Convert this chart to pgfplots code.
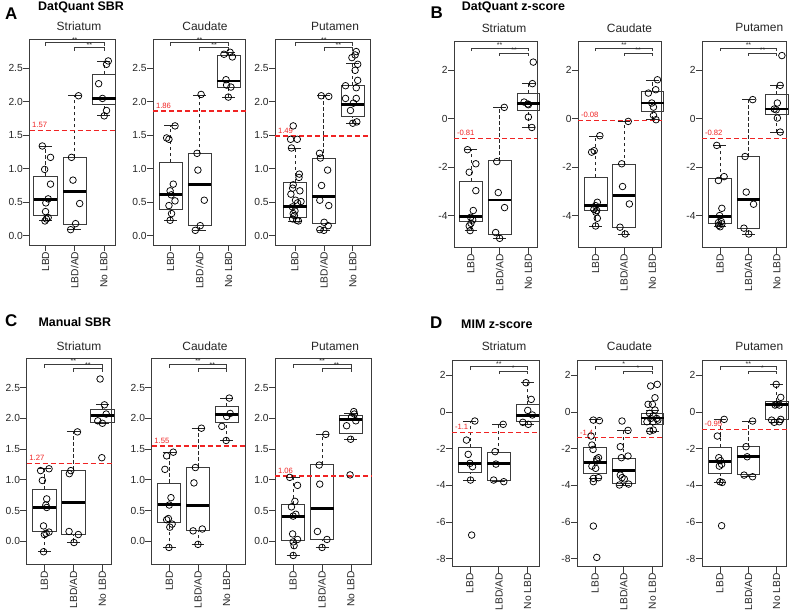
\documentclass[border=0pt]{standalone}
\usepackage{fontspec}
\setmainfont{Liberation Sans}
\usepackage{pgfplots}
\pgfplotsset{compat=1.18}
\usepgfplotslibrary{statistics}

\definecolor{thr}{RGB}{240,35,35}
\definecolor{frm}{RGB}{60,60,60}

\pgfplotsset{
  sub/.style={
    scale only axis, height=206bp,
    clip=false,
    axis line style={frm, line width=0.9bp},
    xtick={1,2,3}, xticklabels={LBD,LBD/AD,No LBD},
    tick pos=left,
    tick align=outside, major tick length=6.5bp,
    tick style={frm, line width=0.7bp},
    xticklabel style={rotate=90, anchor=east, font=\fontsize{10.3}{12}\selectfont, inner sep=0pt, text=black!85},
    yticklabel style={anchor=east, font=\fontsize{10.3}{12}\selectfont, inner sep=0pt, text=black!85},
    /pgf/number format/assume math mode=true,
    boxplot/draw direction=y,
    boxplot/box extend=0.8,
    boxplot/every box/.style={draw=frm, line width=0.8bp},
    boxplot/every median/.style={black, line width=2.8bp},
    boxplot/draw/lower whisker/.code={%
      \draw[black!85, line width=0.75bp, dash pattern=on 3.5bp off 2.5bp]
        (boxplot box cs:\pgfplotsboxplotvalue{lower whisker},0.5) --
        (boxplot box cs:\pgfplotsboxplotvalue{lower quartile},0.5);
      \draw[black!85, line width=0.8bp]
        (boxplot box cs:\pgfplotsboxplotvalue{lower whisker},0.22) --
        (boxplot box cs:\pgfplotsboxplotvalue{lower whisker},0.78);
    },
    boxplot/draw/upper whisker/.code={%
      \draw[black!85, line width=0.75bp, dash pattern=on 3.5bp off 2.5bp]
        (boxplot box cs:\pgfplotsboxplotvalue{upper quartile},0.5) --
        (boxplot box cs:\pgfplotsboxplotvalue{upper whisker},0.5);
      \draw[black!85, line width=0.8bp]
        (boxplot box cs:\pgfplotsboxplotvalue{upper whisker},0.22) --
        (boxplot box cs:\pgfplotsboxplotvalue{upper whisker},0.78);
    },
  },
  sbr/.style={ytick={0,0.5,1,1.5,2,2.5},
    yticklabel style={/pgf/number format/fixed, /pgf/number format/fixed zerofill, /pgf/number format/precision=1}},
  pts/.style={only marks, mark=o, mark size=3.3bp, black, mark options={line width=0.75bp}},
  thrline/.style={thr, line width=1.4bp, dash pattern=on 5bp off 3bp},
  brk/.style={frm, line width=0.6bp},
}
\tikzset{
  thrlab/.style={text=thr, font=\fontsize{7.7}{8}\selectfont, anchor=south west, inner sep=0pt, xshift=2.5bp, yshift=2.5bp},
  brklab/.style={font=\fontsize{7}{8}\selectfont, anchor=south, inner sep=0.3bp, text=black!85},
}

% draw position, lower whisker, Q1, median, Q3, upper whisker
\newcommand{\bx}[6]{\addplot[boxplot prepared={draw position=#1, lower whisker=#2, lower quartile=#3, median=#4, upper quartile=#5, upper whisker=#6}] coordinates {};}
% xmin, xmax, value, label
\newcommand{\thrl}[4]{\addplot[thrline] coordinates {(#1,#3) (#2,#3)};
  \node[thrlab] at (axis cs:#1,#3) {#4};}
% y1, y1 end, y2, y2 end, label1, label2
\newcommand{\brackets}[6]{%
  \addplot[brk] coordinates {(1,#2) (1,#1) (3,#1) (3,#2)};
  \addplot[brk] coordinates {(2,#4) (2,#3) (3,#3) (3,#4)};
  \node[brklab] at (axis cs:2,#1) {#5};
  \node[brklab] at (axis cs:2.5,#3) {#6};}

\begin{document}
\begin{tikzpicture}
\useasboundingbox (0,0) rectangle (797bp,616bp);

% ---------------- titles ----------------
\node[anchor=west, inner sep=0pt, font=\fontsize{17}{18}\selectfont\bfseries] at (5bp,602bp) {A};
\node[anchor=west, inner sep=0pt, font=\fontsize{12.5}{14}\selectfont\bfseries] at (38bp,608.5bp) {DatQuant SBR};
\node[anchor=west, inner sep=0pt, font=\fontsize{17}{18}\selectfont\bfseries] at (430.5bp,603.8bp) {B};
\node[anchor=west, inner sep=0pt, font=\fontsize{12.5}{14}\selectfont\bfseries] at (461.7bp,609bp) {DatQuant z-score};
\node[anchor=west, inner sep=0pt, font=\fontsize{17}{18}\selectfont\bfseries] at (5bp,295bp) {C};
\node[anchor=west, inner sep=0pt, font=\fontsize{12.5}{14}\selectfont\bfseries] at (38.3bp,294bp) {Manual SBR};
\node[anchor=west, inner sep=0pt, font=\fontsize{17}{18}\selectfont\bfseries] at (430bp,293.5bp) {D};
\node[anchor=west, inner sep=0pt, font=\fontsize{12.5}{14}\selectfont\bfseries] at (461bp,291.5bp) {MIM z-score};

\foreach \x/\t in {79/Striatum,205/Caudate,335/Putamen}{
  \node[font=\fontsize{12}{14}\selectfont, text=black!85] at (\x bp,590bp) {\t};
  \node[font=\fontsize{12}{14}\selectfont, text=black!85] at (\x bp,270bp) {\t};}
\foreach \x/\t in {504/Striatum,629.5/Caudate,759.3/Putamen}{
  \node[font=\fontsize{12}{14}\selectfont, text=black!85] at (\x bp,588.2bp) {\t};
  \node[font=\fontsize{12}{14}\selectfont, text=black!85] at (\x bp,269.3bp) {\t};}

% ================= A: DatQuant SBR =================
\begin{axis}[sub, sbr, at={(29.5bp,371bp)}, width=85.5bp, xmin=0.45, xmax=3.38, ymin=-0.139, ymax=2.938]
\bx{1}{0.23}{0.31}{0.54}{0.88}{1.34}
\bx{2}{0.09}{0.17}{0.66}{1.17}{2.09}
\bx{3}{1.80}{1.96}{2.05}{2.41}{2.60}
\thrl{0.45}{3.38}{1.57}{1.57}
\brackets{2.883}{2.834}{2.809}{2.764}{**}{**}
\addplot[pts] coordinates {(0.89,1.34) (1.17,1.17) (0.97,0.99) (1.17,0.77) (1.09,0.55) (1.01,0.49) (1.0,0.36) (1.09,0.27) (1.03,0.25) (0.98,0.22)
 (2.13,2.09) (1.89,1.17) (1.94,0.83) (2.17,0.48) (2.03,0.18) (1.86,0.09)
 (3.15,2.61) (3.09,2.56) (2.82,2.27) (2.95,2.05) (3.09,1.87) (3.01,1.79)};
\end{axis}

\begin{axis}[sub, sbr, at={(153.3bp,371bp)}, width=92.4bp, xmin=0.40, xmax=3.59, ymin=-0.139, ymax=2.938]
\bx{1}{0.23}{0.39}{0.62}{1.10}{1.64}
\bx{2}{0.08}{0.15}{0.76}{1.23}{2.10}
\bx{3}{2.07}{2.21}{2.31}{2.69}{2.74}
\thrl{0.40}{3.59}{1.86}{1.86}
\brackets{2.883}{2.834}{2.809}{2.764}{**}{**}
\addplot[pts] coordinates {(1.15,1.64) (0.86,1.46) (0.94,1.44) (1.09,0.77) (0.98,0.67) (1.02,0.61) (1.15,0.52) (0.94,0.45) (1.03,0.33) (0.98,0.23)
 (2.05,2.11) (1.91,1.23) (1.94,0.98) (2.16,0.53) (2.02,0.15) (1.85,0.08)
 (2.84,2.71) (3.05,2.74) (3.13,2.67) (2.91,2.33) (2.93,2.25) (3.08,2.22) (2.99,2.07)};
\end{axis}

\begin{axis}[sub, sbr, at={(275.3bp,371bp)}, width=95.4bp, xmin=0.32, xmax=3.62, ymin=-0.139, ymax=2.938]
\bx{1}{0.22}{0.27}{0.44}{0.80}{1.31}
\bx{2}{0.08}{0.19}{0.59}{1.15}{2.09}
\bx{3}{1.67}{1.78}{1.96}{2.25}{2.57}
\thrl{0.32}{3.62}{1.49}{1.49}
\brackets{2.883}{2.834}{2.809}{2.764}{**}{**}
\addplot[pts] coordinates {(0.94,1.64) (0.85,1.44) (1.08,1.44) (0.88,1.31) (1.15,0.92) (1.14,0.87) (0.94,0.76) (0.92,0.71) (0.86,0.62) (1.17,0.67)
 (1.02,0.53) (1.09,0.49) (1.21,0.51) (0.91,0.43) (1.0,0.37) (0.94,0.33) (0.98,0.30) (0.92,0.25) (1.06,0.23) (1.12,0.22)
 (1.91,2.09) (2.17,2.08) (1.85,1.23) (1.88,1.16) (2.13,0.98) (1.92,0.75) (1.86,0.53) (2.17,0.45) (2.01,0.20) (2.15,0.15) (1.86,0.09) (2.0,0.08)
 (3.12,2.75) (3.08,2.70) (2.97,2.66) (3.17,2.56) (3.08,2.47) (3.17,2.32) (2.75,2.24) (3.12,2.21) (2.75,2.05) (3.12,2.05) (3.02,1.98) (2.92,1.87) (3.14,1.70) (3.0,1.68)};
\end{axis}

% ================= B: DatQuant z-score =================
\begin{axis}[sub, at={(454.3bp,368.7bp)}, width=83bp, xmin=0.42, xmax=3.31, ymin=-5.31, ymax=3.2, ytick={-4,-2,0,2}]
\bx{1}{-4.62}{-4.26}{-4.04}{-2.58}{-1.26}
\bx{2}{-4.94}{-4.76}{-3.36}{-1.74}{0.47}
\bx{3}{-0.36}{0.33}{0.63}{1.06}{1.45}
\thrl{0.42}{3.31}{-0.81}{-0.81}
\brackets{2.92}{2.79}{2.72}{2.61}{**}{**}
\addplot[pts] coordinates {(0.88,-1.28) (1.17,-1.86) (0.94,-2.21) (1.17,-2.97) (1.08,-3.79) (0.99,-4.07) (1.06,-4.18) (1.0,-4.32) (0.94,-4.43) (0.97,-4.62)
 (2.16,0.47) (1.9,-1.77) (1.95,-3.05) (2.17,-3.67) (1.86,-4.70) (2.0,-4.94)
 (3.17,2.34) (3.14,1.45) (2.85,0.69) (2.98,0.61) (3.0,0.58) (3.0,0.07) (3.12,-0.36)};
\end{axis}

\begin{axis}[sub, at={(578.3bp,368.7bp)}, width=83.4bp, xmin=0.39, xmax=3.33, ymin=-5.31, ymax=3.2, ytick={-4,-2,0,2}]
\bx{1}{-4.43}{-3.77}{-3.57}{-2.41}{-0.72}
\bx{2}{-4.76}{-4.49}{-3.17}{-1.87}{-0.10}
\bx{3}{-0.04}{0.30}{0.65}{1.12}{1.60}
\thrl{0.39}{3.33}{-0.08}{-0.08}
\brackets{2.92}{2.79}{2.72}{2.61}{**}{**}
\addplot[pts] coordinates {(1.15,-0.70) (0.86,-1.38) (0.95,-1.32) (1.06,-3.45) (1.0,-3.59) (0.94,-3.74) (1.04,-3.79) (1.01,-3.86) (1.06,-4.11) (1.0,-4.43)
 (2.15,-0.11) (1.92,-1.86) (1.95,-2.80) (2.19,-3.52) (1.86,-4.48) (2.04,-4.76)
 (3.18,1.61) (3.12,1.20) (2.86,1.06) (2.98,0.65) (3.04,0.48) (3.04,0.14) (3.13,-0.04)};
\end{axis}

\begin{axis}[sub, at={(702.3bp,368.7bp)}, width=84.4bp, xmin=0.37, xmax=3.35, ymin=-5.31, ymax=3.2, ytick={-4,-2,0,2}]
\bx{1}{-4.46}{-4.34}{-4.03}{-2.46}{-1.12}
\bx{2}{-4.76}{-4.53}{-3.32}{-1.56}{0.79}
\bx{3}{-0.55}{0.20}{0.40}{1.00}{1.36}
\thrl{0.37}{3.35}{-0.82}{-0.82}
\brackets{2.92}{2.79}{2.72}{2.61}{**}{**}
\addplot[pts] coordinates {(0.88,-1.10) (1.14,-2.39) (0.94,-2.55) (1.06,-3.70) (0.98,-4.00) (1.04,-4.25) (0.94,-4.29) (1.06,-4.34) (1.0,-4.46) (0.95,-4.40)
 (2.15,0.79) (1.88,-1.56) (1.92,-3.03) (2.18,-3.53) (1.84,-4.52) (2.01,-4.76)
 (3.18,2.61) (3.12,1.38) (3.02,0.65) (2.91,0.40) (2.98,0.37) (3.02,0.03) (3.12,-0.55)};
\end{axis}

% ================= C: Manual SBR =================
\begin{axis}[sub, sbr, at={(26.7bp,51.7bp)}, width=85bp, xmin=0.39, xmax=3.32, ymin=-0.374, ymax=2.977]
\bx{1}{-0.16}{0.16}{0.55}{0.84}{1.18}
\bx{2}{-0.01}{0.12}{0.63}{1.16}{1.78}
\bx{3}{1.92}{1.93}{2.05}{2.14}{2.22}
\thrl{0.39}{3.32}{1.27}{1.27}
\brackets{2.885}{2.825}{2.815}{2.76}{**}{**}
\addplot[pts] coordinates {(0.87,1.15) (1.16,1.18) (0.93,0.99) (1.08,0.69) (1.05,0.59) (1.08,0.55) (0.97,0.25) (1.06,0.13) (1.16,0.15) (1.0,0.11) (0.97,-0.17)
 (2.14,1.78) (1.91,1.15) (1.86,1.10) (1.85,0.16) (2.17,0.11) (2.02,-0.02)
 (2.92,2.64) (3.07,2.22) (2.84,1.96) (3.13,2.07) (3.0,1.92) (2.98,1.36)};
\end{axis}

\begin{axis}[sub, sbr, at={(151.7bp,51.7bp)}, width=94bp, xmin=0.39, xmax=3.66, ymin=-0.374, ymax=2.977]
\bx{1}{-0.10}{0.31}{0.60}{0.95}{1.45}
\bx{2}{-0.05}{0.17}{0.58}{1.21}{1.84}
\bx{3}{1.64}{1.93}{2.06}{2.20}{2.32}
\thrl{0.39}{3.66}{1.55}{1.55}
\brackets{2.885}{2.825}{2.815}{2.76}{**}{**}
\addplot[pts] coordinates {(1.14,1.45) (0.91,1.39) (0.85,1.17) (1.06,0.71) (1.0,0.59) (0.97,0.37) (0.91,0.35) (1.10,0.28) (1.02,0.23) (0.99,-0.10)
 (2.12,1.84) (1.91,1.20) (1.86,0.95) (2.15,0.20) (1.83,0.17) (2.0,-0.05)
 (3.09,2.33) (3.12,2.08) (3.0,2.03) (2.83,1.87) (2.98,1.64)};
\end{axis}

\begin{axis}[sub, sbr, at={(275.3bp,51.7bp)}, width=96.4bp, xmin=0.38, xmax=3.72, ymin=-0.374, ymax=2.977]
\bx{1}{-0.23}{0.01}{0.40}{0.60}{1.04}
\bx{2}{-0.10}{0.03}{0.54}{1.25}{1.74}
\bx{3}{1.66}{1.76}{1.98}{2.05}{2.08}
\thrl{0.38}{3.72}{1.06}{1.06}
\brackets{2.885}{2.825}{2.815}{2.76}{**}{**}
\addplot[pts] coordinates {(0.88,1.04) (1.15,0.91) (1.06,0.65) (0.94,0.56) (1.09,0.44) (1.0,0.41) (0.98,0.12) (1.15,0.03) (1.0,-0.01) (1.03,-0.07) (1.0,-0.23)
 (2.13,1.74) (1.90,1.24) (1.92,0.93) (1.84,0.16) (2.17,0.03) (2.0,-0.10)
 (3.1,2.11) (3.12,2.07) (2.85,1.88) (3.02,2.02) (3.17,1.96) (2.99,1.66) (2.97,1.08)};
\end{axis}

% ================= D: MIM z-score =================
\begin{axis}[sub, at={(452.3bp,49.3bp)}, width=87bp, xmin=0.39, xmax=3.4, ymin=-8.436, ymax=2.8, ytick={-8,-6,-4,-2,0,2}]
\bx{1}{-3.71}{-3.31}{-2.80}{-1.93}{-0.49}
\bx{2}{-3.80}{-3.73}{-2.82}{-2.20}{-0.69}
\bx{3}{-0.67}{-0.49}{-0.18}{0.42}{1.60}
\thrl{0.39}{3.4}{-1.1}{-1.1}
\brackets{2.47}{2.29}{2.24}{2.07}{**}{*}
\addplot[pts] coordinates {(1.17,-0.49) (0.88,-1.53) (0.94,-2.31) (1.0,-2.80) (1.09,-2.98) (1.02,-3.71) (1.06,-6.71)
 (2.15,-0.67) (1.87,-2.16) (1.9,-2.84) (1.82,-3.71) (2.17,-3.80)
 (2.94,1.6) (3.12,0.69) (3.0,0.09) (3.16,-0.16) (2.83,-0.56) (3.02,-0.67)};
\end{axis}

\begin{axis}[sub, at={(577.3bp,49.3bp)}, width=85.4bp, xmin=0.38, xmax=3.36, ymin=-8.436, ymax=2.8, ytick={-8,-6,-4,-2,0,2}]
\bx{1}{-3.62}{-3.33}{-2.76}{-1.93}{-0.40}
\bx{2}{-3.98}{-3.91}{-3.20}{-2.51}{-1.00}
\bx{3}{-1.04}{-0.69}{-0.33}{-0.09}{0.11}
\thrl{0.38}{3.36}{-1.4}{-1.4}
\brackets{2.47}{2.29}{2.24}{2.07}{*}{*}
\addplot[pts] coordinates {(0.94,-0.44) (1.15,-0.47) (0.86,-1.31) (0.89,-1.80) (0.93,-2.04) (1.06,-2.56) (1.12,-2.49) (0.89,-2.95) (1.06,-2.67) (1.02,-3.07) (0.94,-3.62) (1.12,-3.58) (0.94,-3.80) (0.94,-6.22) (1.06,-7.93)
 (1.94,-0.49) (2.15,-1.0) (1.88,-1.89) (1.92,-2.49) (2.15,-2.40) (1.88,-3.44) (1.94,-3.58) (2.02,-3.65) (1.85,-3.98) (2.17,-3.93)
 (3.17,1.51) (2.94,1.42) (3.09,0.78) (2.85,0.42) (3.0,0.42) (3.09,0.11) (2.9,-0.07) (3.03,-0.2) (2.94,-0.35) (3.15,-0.35) (2.81,-0.53) (3.03,-0.53) (3.19,-0.44) (3.03,-0.98) (2.91,-1.04)};
\end{axis}

\begin{axis}[sub, at={(702bp,49.3bp)}, width=84.7bp, xmin=0.37, xmax=3.35, ymin=-8.436, ymax=2.8, ytick={-8,-6,-4,-2,0,2}]
\bx{1}{-3.84}{-3.36}{-2.69}{-1.91}{-0.40}
\bx{2}{-3.53}{-3.42}{-2.42}{-1.89}{-0.49}
\bx{3}{-0.58}{-0.40}{0.40}{0.60}{1.49}
\thrl{0.37}{3.35}{-0.95}{-0.95}
\brackets{2.47}{2.29}{2.24}{2.07}{**}{*}
\addplot[pts] coordinates {(1.15,-0.40) (0.91,-1.31) (0.96,-2.49) (1.02,-2.65) (1.06,-2.85) (0.98,-2.95) (1.0,-3.8) (1.08,-3.84) (1.06,-6.2)
 (2.15,-0.49) (1.92,-1.89) (1.96,-2.44) (1.85,-3.44) (2.15,-3.53)
 (2.98,1.51) (3.14,0.8) (3.0,0.42) (3.09,0.38) (2.94,0.38) (2.82,-0.44) (3.14,-0.40) (2.91,-0.56) (3.09,-0.53)};
\end{axis}
\end{tikzpicture}
\end{document}
